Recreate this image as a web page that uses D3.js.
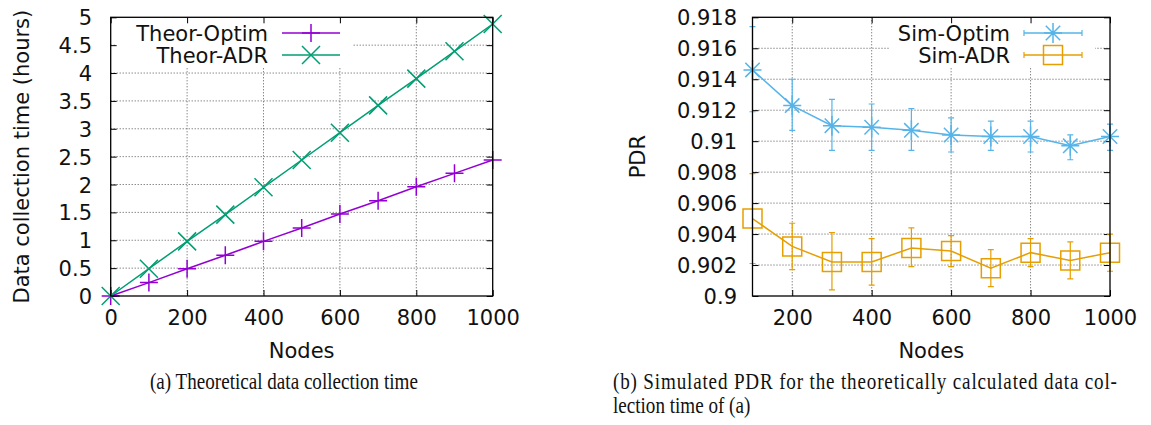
<!DOCTYPE html>
<html>
<head>
<meta charset="utf-8">
<script src="https://cdn.jsdelivr.net/npm/d3@7"></script>
<style>
  body { margin: 0; background: #fff; }
  svg { display: block; }
</style>
</head>
<body>
<svg id="fig" width="1151" height="425"></svg>
<script>
// ---- (a) theoretical data collection time (hours) ----
const nodesA = [0, 100, 200, 300, 400, 500, 600, 700, 800, 900, 1000];
const theorOptim = [0, 0.24, 0.49, 0.73, 0.98, 1.22, 1.47, 1.71, 1.96, 2.20, 2.44];
const theorADR   = [0, 0.49, 0.98, 1.46, 1.95, 2.44, 2.93, 3.42, 3.90, 4.39, 4.88];
const xTicksA = [0, 200, 400, 600, 800, 1000];
const yTicksA = [0, 0.5, 1, 1.5, 2, 2.5, 3, 3.5, 4, 4.5, 5];

// ---- (b) simulated PDR with error bars ----
const nodesB = [100, 200, 300, 400, 500, 600, 700, 800, 900, 1000];
const simOptim     = [0.9146, 0.9123, 0.9110, 0.9109, 0.9107, 0.9104, 0.9103, 0.9103, 0.9097, 0.9103];
const simOptimLow  = [0.9119, 0.9107, 0.9094, 0.9094, 0.9094, 0.9093, 0.9094, 0.9093, 0.9088, 0.9094];
const simOptimHigh = [0.9174, 0.9140, 0.9127, 0.9124, 0.9121, 0.9115, 0.9113, 0.9113, 0.9104, 0.9111];
const simADR       = [0.9050, 0.9032, 0.9022, 0.9022, 0.9031, 0.9029, 0.9018, 0.9028, 0.9023, 0.9028];
const simADRLow    = [0.9021, 0.9017, 0.9004, 0.9007, 0.9019, 0.9019, 0.9006, 0.9019, 0.9011, 0.9016];
const simADRHigh   = [0.9079, 0.9047, 0.9041, 0.9037, 0.9044, 0.9039, 0.9030, 0.9037, 0.9035, 0.9040];
const xTicksB = [200, 400, 600, 800, 1000];
const yTicksB = [0.9, 0.902, 0.904, 0.906, 0.908, 0.91, 0.912, 0.914, 0.916, 0.918];

const COL = { purple: "#9400d3", green: "#009e73", blue: "#56b4e9", orange: "#e69f00" };
const FONT = "'DejaVu Sans', sans-serif";
const svg = d3.select("#fig");

// marker path generators (gnuplot-style point types)
const M = 9;
const markers = {
  plus: (x, y) => `M${x - M},${y}H${x + M}M${x},${y - M}V${y + M}`,
  cross: (x, y) => `M${x - M},${y - M}L${x + M},${y + M}M${x - M},${y + M}L${x + M},${y - M}`,
  star: (x, y) => `M${x - M},${y}H${x + M}M${x},${y - M - 1}V${y + M + 1}` +
                  `M${x - M * 0.8},${y - M * 0.8}L${x + M * 0.8},${y + M * 0.8}M${x - M * 0.8},${y + M * 0.8}L${x + M * 0.8},${y - M * 0.8}`,
  square: (x, y) => `M${x - 9.5},${y - 9.5}h19v19h-19Z`
};

function panel(cfg) {
  const { left, right, top, bottom } = cfg.box;
  const x = d3.scaleLinear().domain(cfg.xDomain).range([left, right]);
  const y = d3.scaleLinear().domain(cfg.yDomain).range([bottom, top]);
  const g = svg.append("g");

  // grid
  const grid = g.append("g").attr("stroke", "#555").attr("stroke-width", 1)
    .attr("stroke-dasharray", "1,2");
  cfg.xTicks.forEach(t => {
    if (x(t) > left + 1 && x(t) < right - 1)
      grid.append("line").attr("x1", x(t)).attr("x2", x(t)).attr("y1", top).attr("y2", bottom);
  });
  cfg.yTicks.forEach(t => {
    if (y(t) > top + 1 && y(t) < bottom - 1)
      grid.append("line").attr("x1", left).attr("x2", right).attr("y1", y(t)).attr("y2", y(t));
  });

  // opaque key background
  g.append("rect").attr("x", cfg.key.bx0).attr("y", top + 1)
    .attr("width", cfg.key.bx1 - cfg.key.bx0).attr("height", cfg.key.by1 - top - 1)
    .attr("fill", "#fff");

  // axes with inward ticks on all four sides
  const tl = 6;
  const axB = d3.axisBottom(x).tickValues(cfg.xTicks).tickSize(-tl).tickPadding(14)
    .tickFormat(d3.format("~g"));
  const axT = d3.axisTop(x).tickValues(cfg.xTicks).tickSize(-tl).tickFormat("");
  const axL = d3.axisLeft(y).tickValues(cfg.yTicks).tickSize(-tl).tickPadding(18)
    .tickFormat(d3.format("~g"));
  const axR = d3.axisRight(y).tickValues(cfg.yTicks).tickSize(-tl).tickFormat("");
  const style = sel => {
    sel.select(".domain").remove();
    sel.selectAll("line").attr("stroke", "#000").attr("stroke-width", 1);
    sel.selectAll("text").attr("font-family", FONT).attr("font-size", 21).attr("fill", "#111");
  };
  g.append("g").attr("transform", `translate(0,${bottom})`).call(axB).call(style)
    .selectAll("text").attr("dy", "0.71em");
  g.append("g").attr("transform", `translate(0,${top})`).call(axT).call(style);
  g.append("g").attr("transform", `translate(${left},0)`).call(axL).call(style)
    .selectAll("text").attr("dy", "0.36em").attr("x", cfg.yLabelX - left);
  g.append("g").attr("transform", `translate(${right},0)`).call(axR).call(style);

  // series
  cfg.series.forEach(s => {
    const pts = cfg.xs.map((v, i) => [x(v), y(s.values[i])]);
    const sg = g.append("g").attr("stroke", s.color).attr("fill", "none").attr("stroke-width", 1.5);
    if (s.low) {
      cfg.xs.forEach((v, i) => {
        const px = x(v), y0 = y(s.low[i]), y1 = y(s.high[i]);
        sg.append("path").attr("stroke-width", 1.2)
          .attr("d", `M${px},${y0}V${y1}M${px - 3},${y0}h6M${px - 3},${y1}h6`);
      });
    }
    sg.append("path").attr("d", d3.line()(pts));
    pts.forEach(p => sg.append("path").attr("d", markers[s.marker](p[0], p[1])));

    // key entry
    const ky = s.keyY;
    g.append("text").attr("x", cfg.key.textX).attr("y", ky).attr("dy", "0.36em")
      .attr("text-anchor", "end").attr("font-family", FONT).attr("font-size", 21)
      .attr("fill", "#111").text(s.name);
    const kg = g.append("g").attr("stroke", s.color).attr("fill", "none").attr("stroke-width", 1.5);
    kg.append("path").attr("d", `M${cfg.key.s0},${ky}H${cfg.key.s1}`);
    if (s.low) {
      kg.append("path").attr("stroke-width", 1.2)
        .attr("d", `M${cfg.key.s0},${ky - 3}v6M${cfg.key.s1},${ky - 3}v6`);
    }
    const mx = (cfg.key.s0 + cfg.key.s1) / 2;
    kg.append("path").attr("d", markers[s.marker](mx, ky));
  });

  // frame
  g.append("rect").attr("x", left).attr("y", top).attr("width", right - left)
    .attr("height", bottom - top).attr("fill", "none").attr("stroke", "#000").attr("stroke-width", 1.3);

  // axis titles
  g.append("text").attr("x", (left + right) / 2).attr("y", 358).attr("text-anchor", "middle")
    .attr("font-family", FONT).attr("font-size", 21).attr("fill", "#111").text("Nodes");
  g.append("text").attr("transform", `translate(${cfg.yTitleX},${(top + bottom) / 2}) rotate(-90)`)
    .attr("text-anchor", "middle").attr("font-family", FONT).attr("font-size", 21)
    .attr("fill", "#111").text(cfg.yTitle);
}

panel({
  box: { left: 110.7, right: 492.7, top: 17.3, bottom: 296 },
  xDomain: [0, 1000], yDomain: [0, 5],
  xTicks: xTicksA, yTicks: yTicksA,
  yLabelX: 92, yTitleX: 29, yTitle: "Data collection time (hours)",
  xs: nodesA,
  key: { bx0: 116, bx1: 352, by1: 67, textX: 268, s0: 282, s1: 340 },
  series: [
    { name: "Theor-Optim", values: theorOptim, color: COL.purple, marker: "plus", keyY: 33 },
    { name: "Theor-ADR", values: theorADR, color: COL.green, marker: "cross", keyY: 55 }
  ]
});

panel({
  box: { left: 752.5, right: 1110, top: 17.3, bottom: 296 },
  xDomain: [100, 1000], yDomain: [0.9, 0.918],
  xTicks: xTicksB, yTicks: yTicksB,
  yLabelX: 737, yTitleX: 645, yTitle: "PDR",
  xs: nodesB,
  key: { bx0: 890, bx1: 1095, by1: 67, textX: 1010, s0: 1024, s1: 1082 },
  series: [
    { name: "Sim-Optim", values: simOptim, low: simOptimLow, high: simOptimHigh,
      color: COL.blue, marker: "star", keyY: 33 },
    { name: "Sim-ADR", values: simADR, low: simADRLow, high: simADRHigh,
      color: COL.orange, marker: "square", keyY: 55 }
  ]
});

// sub-figure captions: a narrow serif face, the first line of (b) justified
const SERIF = "'Liberation Serif', 'Times New Roman', serif";
function caption(x, y, txt, width) {
  const t = svg.append("text").attr("font-family", SERIF).attr("font-size", 22.5)
    .attr("fill", "#111").text(txt);
  return { t, x, y, width };
}
const caps = [
  caption(150, 389, "(a) Theoretical data collection time", null),
  caption(613, 389, "(b) Simulated PDR for the theoretically calculated data col-", 504),
  caption(613, 413, "lection time of (a)", null)
];
const squeeze = 268 / caps[0].t.node().getComputedTextLength();
caps.forEach(c => {
  c.t.attr("transform", `translate(${c.x},${c.y}) scale(${squeeze},1)`);
  if (c.width) {
    c.t.attr("textLength", c.width / squeeze).attr("lengthAdjust", "spacing");
  }
});
</script>
</body>
</html>
